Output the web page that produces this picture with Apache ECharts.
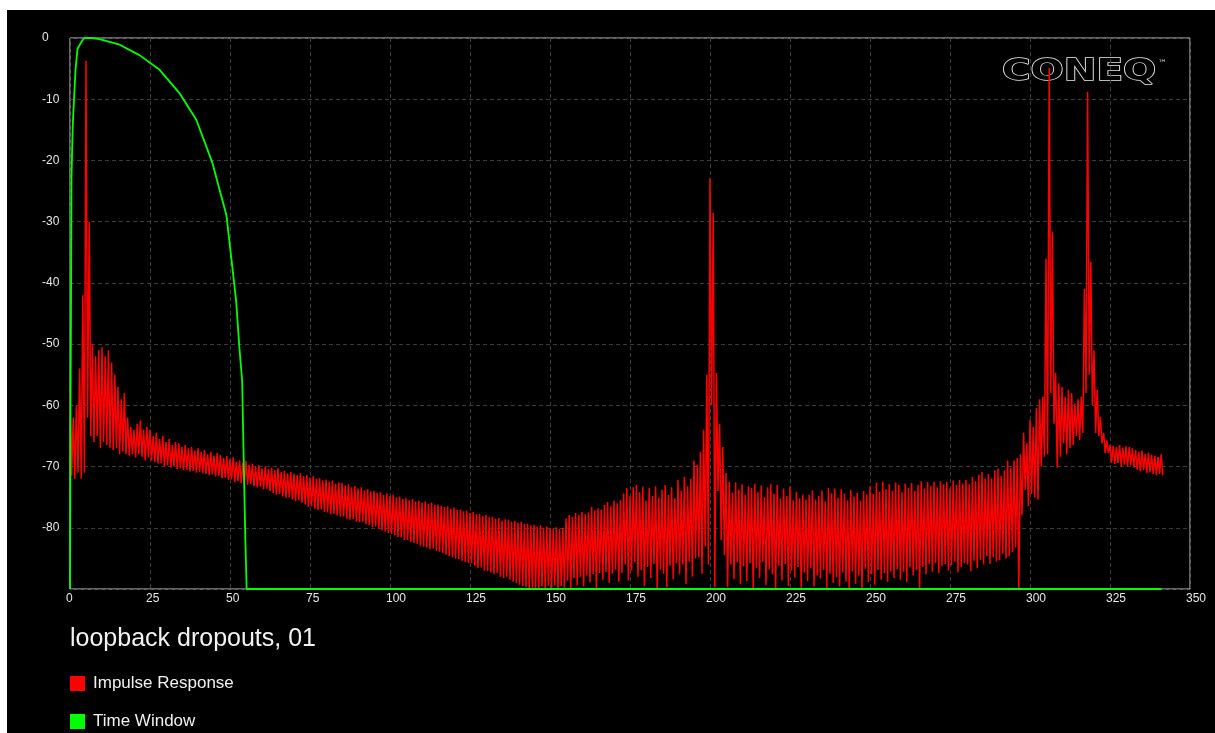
<!DOCTYPE html>
<html>
<head>
<meta charset="utf-8">
<script src="https://cdn.jsdelivr.net/npm/echarts@6/dist/echarts.min.js"></script>
<style>
  html, body { margin: 0; padding: 0; background: #fff; }
  #chart { position: absolute; left: 7px; top: 10px; width: 1208px; height: 723px; background: #000; }
</style>
</head>
<body>
<div id="chart"></div>
<script>
// axis ticks
var xTicks = [0, 350, 25];
var yTicks = [-90, 0, 10];

// impulse response: upper and lower swing per sample (dB)
var irHigh = [
  -58, -62, -60, -54, -42, -3.7, -30, -50, -52, -51,
  -50.5, -52, -51, -53, -55, -57, -59, -58, -62, -63.5,
  -64, -63, -62.5, -64, -63.5, -64, -65, -64.5, -65.5, -65,
  -66, -65.5, -66.5, -66, -66.2, -66.8, -66.5, -67, -66.8, -67.4,
  -67, -67.6, -67.3, -68, -67.6, -68.2, -67.8, -68.1, -68.6, -68.3,
  -68.8, -68.5, -69.2, -69, -69.4, -69.1, -69.7, -69.5, -70, -69.8,
  -70.3, -70, -70.4, -70.2, -70.6, -70.3, -70.9, -70.7, -71.1, -70.9,
  -71.2, -71.4, -71.1, -71.6, -71.4, -71.8, -71.6, -72, -71.9, -72.3,
  -72.1, -72.5, -72.3, -72.8, -72.6, -72.7, -73.1, -72.9, -73.4, -73.2,
  -73.6, -73.4, -73.9, -73.7, -74.1, -74, -74.3, -74.2, -74.6, -74.4,
  -74.8, -74.6, -75, -74.9, -75.3, -75.2, -75.5, -75.3, -75.7, -75.6,
  -75.9, -75.7, -76.1, -75.9, -76.3, -76.2, -76.4, -76.6, -76.5, -76.9,
  -76.7, -77.1, -77, -77.3, -77.2, -77.6, -77.4, -77.8, -77.7, -78.1,
  -77.9, -78.3, -78.2, -78.5, -78.4, -78.8, -78.6, -78.7, -79, -78.9,
  -79.2, -79, -79.4, -79.3, -79.6, -79.5, -79.8, -79.6, -80, -79.8,
  -80, -80.2, -79.9, -80.2, -80, -78.5, -77.9, -78.2, -77.6, -77.9,
  -77.4, -77.8, -77.5, -76.6, -77.2, -76.8, -77, -76.3, -75.8, -76.5,
  -75.6, -76, -75.5, -74.4, -73.5, -74.8, -73.4, -73, -74.2, -73.3,
  -75.6, -73.5, -74.8, -73.2, -75.1, -73.8, -73, -74.6, -73.4, -75.2,
  -72.2, -74, -71.7, -73.2, -72, -69, -69.7, -67.6, -64, -55,
  -22.9, -28.6, -54.7, -63, -66.8, -71, -72.5, -74.3, -72.6, -73.8,
  -72.9, -74.6, -73.2, -73.5, -72.8, -74.2, -73.1, -75, -73.4, -72.9,
  -74.5, -73, -75.2, -73.6, -74.8, -73.3, -75.5, -74.1, -75.2, -74.6,
  -75.4, -74.6, -73.9, -75.4, -74.8, -73.9, -75.7, -73.5, -74.4, -73.6,
  -75.1, -73.7, -74.4, -75.5, -73.8, -74.9, -74.3, -75.6, -74, -74.6,
  -73.2, -74.5, -72.6, -74.1, -72.5, -73.7, -72.9, -74, -72.6, -73,
  -74.2, -72.8, -73.5, -72.7, -74, -73, -72.4, -73.6, -72.5, -73.2,
  -72.5, -73.4, -72.4, -72.9, -72.5, -73.6, -72.3, -73, -72.2, -72.8,
  -72.2, -72.9, -71.7, -72.4, -71.4, -70.9, -72, -71.2, -71.9, -70.6,
  -70.3, -71.5, -70.6, -69, -70.2, -69, -68.6, -68, -64.5, -66.2,
  -62.4, -63.5, -60.4, -59, -58.6, -36, -4.9, -31.6, -54.7, -56.4,
  -57, -58.6, -57.5, -58, -59.7, -59, -58.6, -41, -8.8, -36.6,
  -51, -57.5, -61.9, -64.5, -65.7, -66.5, -66.6, -66.8, -66.5, -66.9,
  -66.7, -66.8, -67, -67.3, -67.6, -67.4, -67.9, -67.7, -68.1, -68.2,
  -68.4, -68
];
var irLow = [
  -71.5, -72, -71, -72, -71, -62, -65, -66, -65, -67,
  -66, -66.5, -67, -67.3, -67, -68, -67.5, -68, -68.2, -68,
  -68.5, -68, -68.4, -69, -68.5, -69, -69.3, -69.5, -69.4, -70,
  -69.8, -70.2, -70, -70.4, -70.3, -70.6, -70.5, -70.8, -70.7, -71,
  -70.9, -71.1, -71.2, -71.4, -71.3, -71.6, -71.5, -71.9, -71.8, -72.2,
  -72.1, -72.5, -72.4, -72.7, -72.8, -73, -72.9, -73.2, -73.4, -73.3,
  -73.7, -73.6, -74, -74.3, -74.6, -74.5, -74.9, -75.1, -75, -75.4,
  -75.6, -75.5, -75.9, -76.2, -76.6, -76.5, -76.9, -77.1, -77, -77.4,
  -77.5, -77.8, -77.7, -78, -78.2, -78.2, -78.5, -78.7, -78.6, -79,
  -79.1, -79, -79.4, -79.6, -79.9, -79.8, -80.2, -80.4, -80.6, -80.9,
  -81, -81.2, -81.5, -81.6, -82, -82, -82.3, -82.5, -82.6, -83,
  -83.1, -83.2, -83.5, -83.4, -83.8, -83.9, -84.1, -84.4, -84.6, -84.8,
  -85, -85.1, -85.4, -85.6, -85.8, -85.8, -86.2, -86.6, -86.5, -87,
  -87.1, -87.3, -87.6, -87.4, -88, -88.2, -88, -88.5, -88.8, -89,
  -89.3, -89.5, -89.7, -90, -89.8, -90, -90, -89.6, -90, -89.5,
  -90, -89.4, -90, -89.5, -89.8, -88.6, -90, -88.2, -89.4, -88,
  -89.6, -87.8, -88.9, -87.6, -90, -87.4, -88.5, -87.2, -89, -87.5,
  -86.8, -88.8, -87.4, -86, -88.6, -87, -85.6, -88, -86.9, -89.5,
  -86.4, -88.2, -85.9, -90, -86.8, -87.5, -89.7, -86.2, -88.4, -85.8,
  -87.6, -86, -89.2, -85.5, -88, -85, -84.8, -87.5, -83, -86,
  -60, -89.7, -74, -82, -84.5, -89.7, -86, -88.4, -85.6, -89.2,
  -86.3, -88.7, -85.8, -90, -86.6, -88.2, -85.5, -89.4, -86.8, -87.6,
  -90, -86.2, -88.6, -85.9, -89.5, -87, -88.1, -86.4, -89.8, -87.3,
  -88.7, -86.6, -89.6, -87.8, -88.3, -86.9, -90, -87.5, -89, -88.1,
  -89.6, -87.3, -88.8, -90, -87.1, -89.2, -87.8, -90, -86.7, -88.9,
  -87.6, -89.3, -86.9, -88.5, -87.4, -88.8, -87.1, -88.2, -86.8, -88.5,
  -87.2, -88.9, -86.5, -87.8, -86.9, -90, -86.4, -87.6, -85.9, -87.2,
  -85.8, -87.4, -86.3, -85.9, -87, -86.1, -85.5, -87.3, -86.4, -85.8,
  -86, -87.1, -85.4, -86.6, -85.2, -86, -84.6, -85.9, -84.8, -85.5,
  -85.3, -84.2, -85, -84.6, -84, -83.2, -90, -78, -73.8, -76.5,
  -74.5, -75, -75.4, -70, -68.4, -68, -58, -63, -70.2, -68.4,
  -66.2, -68, -67, -66.5, -65, -65.7, -64.5, -58, -55, -60,
  -64.5, -65, -66.2, -67.8, -67.8, -69.4, -69.6, -69.4, -70, -69.7,
  -70, -69.8, -70.2, -70.5, -70.8, -70.6, -71, -70.9, -71.2, -71.4,
  -71.2, -71.4
];

// time window curve (dB)
var windowX = [0, 0.16, 0.31, 0.47, 0.88, 1.72, 2.34, 3.6, 4.5, 6.7, 9.2, 15.5, 21.7, 28, 34.2, 39.5, 44.5, 48.9, 51.9, 53, 53.8, 54.1, 54.4, 54.8, 55.2, 341];
var windowDb = [-90, -60, -45, -22.4, -14, -5.2, -1.8, -0.6, 0, 0, -0.2, -1.1, -2.8, -5.2, -9, -13.4, -20.4, -29, -42.8, -51, -56, -64, -72, -82, -90, -90];

var seriesNames = ['Impulse Response', 'Time Window'];
var chartTitle = 'loopback dropouts, 01';

var irData = [];
for (var i = 0; i < irHigh.length; i++) {
  irData.push([i, irHigh[i]]);
  irData.push([i + 0.5, irLow[i]]);
}
var windowData = [];
for (var j = 0; j < windowX.length; j++) {
  windowData.push([windowX[j], windowDb[j]]);
}

var chart = echarts.init(document.getElementById('chart'), null, { renderer: 'canvas' });

var labelFont = {
  color: '#e6e6e6',
  fontFamily: '"Liberation Sans", Arial, sans-serif',
  fontSize: 12
};

var option = {
  backgroundColor: '#000',
  animation: false,
  title: {
    text: chartTitle,
    left: 63,
    top: 617,
    padding: 0,
    textStyle: {
      color: '#f2f2f2',
      fontFamily: '"Liberation Sans", Arial, sans-serif',
      fontSize: 25,
      lineHeight: 25,
      fontWeight: 'normal'
    }
  },
  legend: {
    orient: 'vertical',
    left: 63,
    top: 665,
    padding: 0,
    itemWidth: 15,
    itemHeight: 15,
    itemGap: 21,
    icon: 'rect',
    data: seriesNames,
    textStyle: {
      color: '#f0f0f0',
      fontFamily: '"Liberation Sans", Arial, sans-serif',
      fontSize: 17,
      lineHeight: 15,
      padding: [0, 0, 0, 3]
    }
  },
  grid: {
    left: 63,
    top: 28,
    width: 1120,
    height: 551,
    show: true,
    backgroundColor: '#000',
    borderColor: '#c8c8c8',
    borderWidth: 1
  },
  xAxis: {
    type: 'value',
    min: xTicks[0],
    max: xTicks[1],
    interval: xTicks[2],
    axisLine: { show: false },
    axisTick: { show: false },
    axisLabel: Object.assign({ margin: 4, align: 'left', padding: [0, 0, 0, -4] }, labelFont),
    splitLine: {
      show: true,
      lineStyle: { color: '#3c3c3c', type: [4, 3], width: 1 }
    }
  },
  yAxis: {
    type: 'value',
    min: yTicks[0],
    max: yTicks[1],
    interval: yTicks[2],
    axisLine: { show: false },
    axisTick: { show: false },
    axisLabel: Object.assign({ margin: 28, align: 'left', showMinLabel: false }, labelFont),
    splitLine: {
      show: true,
      lineStyle: { color: '#3c3c3c', type: [4, 3], width: 1 }
    }
  },
  graphic: [
    {
      type: 'text',
      x: 995,
      y: 47,
      scaleX: 1.3,
      style: {
        text: 'CONEQ',
        font: 'bold 30px "DejaVu Sans", sans-serif',
        fill: '#000',
        stroke: '#e8e8e8',
        lineWidth: 1.4
      }
    },
    {
      type: 'text',
      x: 1151,
      y: 49,
      style: {
        text: '™',
        font: '9px "DejaVu Sans", sans-serif',
        fill: '#cccccc'
      }
    }
  ],
  series: [{
      name: seriesNames[0],
      type: 'line',
      data: irData,
      showSymbol: false,
      sampling: null,
      color: '#ff0000',
      lineStyle: { color: '#ff0000', width: 1.5 },
      z: 2
    },
    {
      name: seriesNames[1],
      type: 'line',
      data: windowData,
      showSymbol: false,
      color: '#00ff00',
      lineStyle: { color: '#00ff00', width: 1.8 },
      z: 3
    }
  ]
};

chart.setOption(option);
</script>
</body>
</html>
